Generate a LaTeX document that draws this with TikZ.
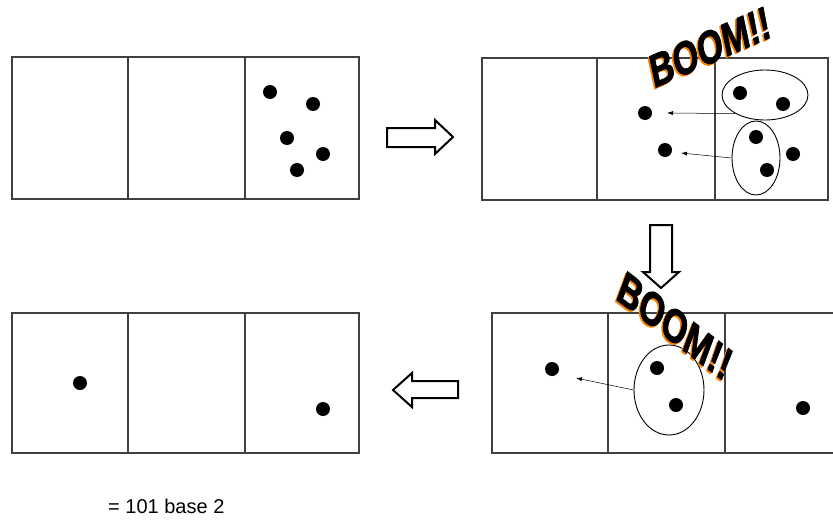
\documentclass[tikz,border=0pt]{standalone}
\usepackage{fontspec}
\setmainfont{Liberation Sans}
\newfontfamily\boomfont[BoldFeatures={FakeBold=2}]{Liberation Sans}
\usetikzlibrary{shapes,arrows,positioning,calc,arrows.meta}

\begin{document}
\begin{tikzpicture}[x=1pt,y=-1pt,
    cell/.style={line width=1.2pt, draw=black!75},
    ball/.style={circle, fill=black, inner sep=0pt, minimum size=14pt},
    group/.style={ellipse, draw, line width=0.9pt, inner sep=0pt},
    kick/.style={-{Latex[length=6pt,width=4pt]}, line width=0.5pt},
    fat/.style={line width=2pt, fill=white, line join=miter},
    boom/.style={font=\boomfont\bfseries\fontsize{47}{47}\selectfont, inner sep=0pt, xscale=0.7}]
    \useasboundingbox (0,0) rectangle (833,525);

    % the four rows of three cells
    \draw[cell] (12,57) rectangle (359,199) (128,57) -- (128,199) (245,57) -- (245,199);
    \draw[cell] (482,58) rectangle (828,200) (597,58) -- (597,200) (715,58) -- (715,200);
    \draw[cell] (12,313) rectangle (359,453) (128,313) -- (128,453) (245,313) -- (245,453);
    \draw[cell] (492,313) rectangle (845,453) (608,313) -- (608,453) (725,313) -- (725,453); % runs off the page

    \foreach \n/\p in {a1/{270,92}, a2/{313,104}, a3/{287,138}, a4/{323,154}, a5/{297,170},
        b1/{645,113}, b2/{665,150}, b3/{740,93}, b4/{783,104}, b5/{756,137}, b6/{793,154}, b7/{767,170},
        c1/{552,369}, c2/{657,368}, c3/{676,405}, c4/{803,408},
        d1/{80,383}, d2/{323,409}}
        \node[ball] (\n) at (\p) {};

    % pairs that blow up
    \node[group, minimum width=86pt, minimum height=50pt] (g1) at (765,95) {};
    \node[group, minimum width=48pt, minimum height=74pt] (g2) at (756,158) {};
    \node[group, minimum width=70pt, minimum height=90pt] (g3) at (669,390) {};

    \coordinate (t1) at (667,113);
    \coordinate (t2) at (681,153);
    \coordinate (t3) at (576,378);
    \draw[kick] (g1.212) -- (t1);
    \draw[kick] (g2.west) -- (t2);
    \draw[kick] (g3.west) -- (t3);

    \node[boom, text=orange, rotate=17] (boom1s) at (708.5,48.5) {BOOM!!};
    \node[boom, rotate=17] (boom1) at (710,47) {BOOM!!};
    \node[boom, text=orange, rotate=-28] (boom2s) at (673.5,327.5) {BOOM!!};
    \node[boom, rotate=-28] (boom2) at (675,326) {BOOM!!};

    % hollow arrows between the steps
    \draw[fat] (387,128) -- (435,128) -- (435,120) -- (453,137) -- (435,154) -- (435,147) -- (387,147) -- cycle;
    \draw[fat] (650,225) -- (672,225) -- (672,272) -- (679,272) -- (661,288) -- (643,272) -- (650,272) -- cycle;
    \draw[fat] (458,381) -- (412,381) -- (412,373) -- (393,390) -- (412,407) -- (412,398) -- (458,398) -- cycle;

    \node[font=\fontsize{20}{24}\selectfont, anchor=base west, inner sep=0pt] (val) at (108,513) {= 101 base 2};
\end{tikzpicture}
\end{document}
